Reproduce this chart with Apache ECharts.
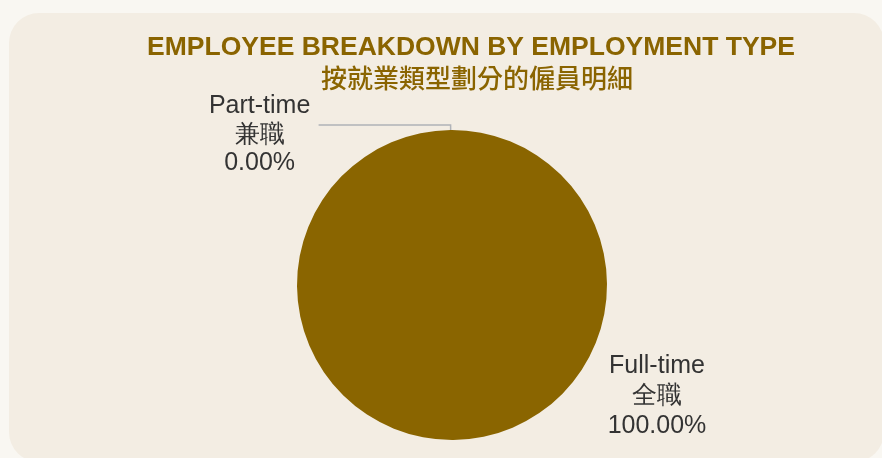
<!DOCTYPE html>
<html>
<head>
<meta charset="utf-8">
<script src="https://cdn.jsdelivr.net/npm/echarts@6/dist/echarts.min.js"></script>
<style>
html,body{margin:0;padding:0;background:#f9f7f2;}
#chart{width:882px;height:458px;}
</style>
</head>
<body>
<div id="chart"></div>
<script>
var titleEn = 'EMPLOYEE BREAKDOWN BY EMPLOYMENT TYPE';
var titleZh = '按就業類型劃分的僱員明細';
var namesEn = ['Part-time', 'Full-time'];
var namesZh = ['兼職', '全職'];
var values = [0, 100];

var chart = echarts.init(document.getElementById('chart'));
var total = values.reduce(function (a, b) { return a + b; }, 0);
var data = values.map(function (v, i) {
  return { name: namesEn[i], value: v, zh: namesZh[i] };
});

var option = {
  backgroundColor: '#f9f7f2',
  graphic: [{
    type: 'rect', z: -10, silent: true,
    shape: { x: 9, y: 13, width: 875, height: 449, r: 30 },
    style: { fill: '#f3ede3' }
  }],
  title: [{
    text: titleEn, left: 466, top: 30, textAlign: 'center',
    textStyle: { fontFamily: 'Liberation Sans', fontWeight: 'bold', fontSize: 26.5, lineHeight: 26, color: '#8a6400' }
  }, {
    text: titleZh, left: 472, top: 59, textAlign: 'center',
    textStyle: { fontFamily: 'Noto Sans CJK TC', fontWeight: 500, fontSize: 26, lineHeight: 28, color: '#8a6400' }
  }],
  series: [{
    type: 'pie',
    center: [452, 285],
    radius: 155,
    startAngle: 90.5,
    color: ['#8a6500', '#8a6500'],
    avoidLabelOverlap: false,
    silent: true,
    label: {
      show: true,
      position: 'outside',
      distanceToLabelLine: 4,
      padding: [20, 0, 0, 0],
      formatter: function (p) {
        var pct = (total ? p.value / total * 100 : 0).toFixed(2) + '%';
        return '{a|' + p.name + '}\n{a|' + p.data.zh + '}\n{a|' + pct + '}';
      },
      rich: {
        a: { width: 110, align: 'center', fontFamily: 'Liberation Sans', fontSize: 25, lineHeight: 28.5, color: '#333333' }
      }
    },
    labelLine: {
      show: true, length: 5, length2: 132,
      lineStyle: { color: '#b0b3b8', width: 1.5 }
    },
    labelLayout: function (p) {
      if (p.dataIndex === 1) {
        return { x: 601, y: 396, align: 'left', verticalAlign: 'middle' };
      }
    },
    data: [
      data[0],
      { name: data[1].name, value: data[1].value, zh: data[1].zh,
        labelLine: { show: false },
        label: { padding: 0, rich: { a: { width: 112, align: 'center', fontFamily: 'Liberation Sans', fontSize: 25, lineHeight: 30, color: '#333333' } } } }
    ]
  }]
};
chart.setOption(option);
</script>
</body>
</html>
